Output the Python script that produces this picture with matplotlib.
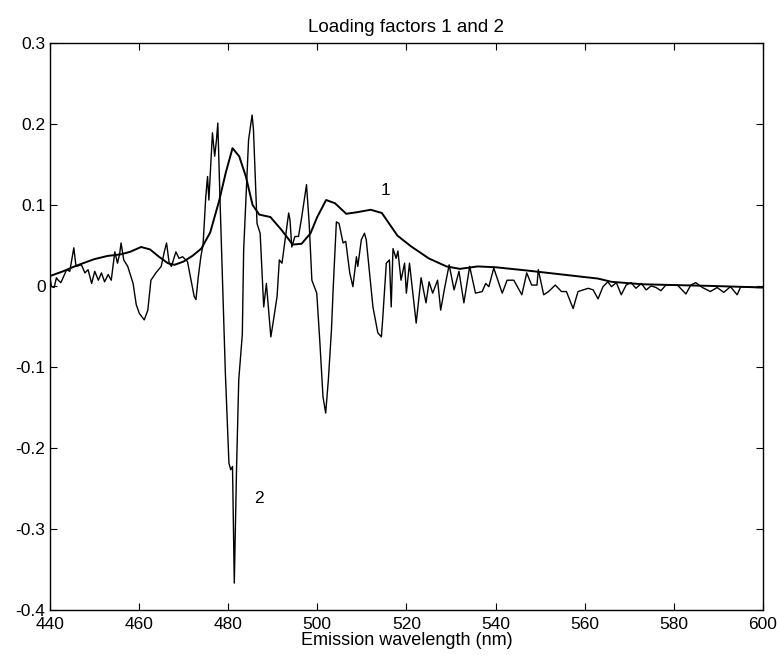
import matplotlib.pyplot as plt

plt.rcParams["font.family"] = ["Liberation Sans", "DejaVu Sans"]

# factor 1 (smooth loading)
wl_1 = [440, 443, 446, 450, 453, 456, 458, 460.5, 462.5, 464.5, 466.5, 468, 470,
        472, 474, 476, 478, 479.5, 481, 482.5, 484, 485.5, 487, 489.5, 492, 494.5,
        496.5, 498.5, 500, 502, 504, 506.5, 509, 512, 514.5, 516, 518, 521, 525,
        529, 532, 536, 540, 547, 555, 563, 566, 573, 580, 588, 600]
load_1 = [0.012, 0.018, 0.025, 0.033, 0.037, 0.039, 0.042, 0.048, 0.045, 0.036,
          0.028, 0.026, 0.030, 0.037, 0.046, 0.066, 0.105, 0.140, 0.170, 0.160,
          0.135, 0.100, 0.088, 0.085, 0.069, 0.051, 0.052, 0.065, 0.085, 0.106,
          0.102, 0.089, 0.091, 0.094, 0.090, 0.078, 0.062, 0.049, 0.034, 0.024,
          0.021, 0.024, 0.023, 0.019, 0.014, 0.009, 0.005, 0.002, 0.001, 0.000,
          -0.002]

# factor 2 (noisy loading)
wl_2 = [440.0, 440.4, 441.0, 441.5, 441.9, 442.5, 443.8, 444.5, 445.4, 445.9,
        447.1, 447.9, 448.6, 449.4, 450.1, 450.9, 451.6, 452.3, 453.1, 453.8,
        454.6, 455.2, 455.7, 456.0, 456.6, 457.5, 458.7, 459.4, 460.1, 461.2,
        462.0, 462.7, 463.8, 465.0, 465.7, 466.2, 466.8, 467.3, 468.3, 469.0,
        469.8, 470.9, 471.6, 472.4, 472.8, 473.3, 473.9, 474.4, 475.0, 475.4,
        475.7, 476.5, 477.0, 477.4, 477.7, 478.2, 478.7, 479.1, 479.4, 480.2,
        480.6, 481.0, 481.4, 481.9, 482.4, 483.2, 483.5, 484.6, 485.4, 485.7,
        486.5, 487.2, 488.0, 488.6, 489.1, 489.6, 490.2, 491.0, 491.5, 492.1,
        492.8, 493.6, 493.9, 494.3, 495.0, 495.8, 496.5, 497.6, 498.2, 498.8,
        499.9, 500.6, 501.3, 501.9, 502.5, 503.2, 503.6, 504.3, 504.9, 505.8,
        506.4, 507.3, 508.0, 508.8, 509.1, 509.9, 510.6, 511.0, 512.5, 513.6,
        514.4, 514.7, 515.5, 516.2, 516.6, 517.0, 517.7, 518.1, 518.8, 519.6,
        520.0, 520.7, 522.2, 523.3, 524.4, 525.1, 525.9, 527.0, 527.7, 528.5,
        529.6, 530.7, 531.8, 532.9, 534.2, 535.5, 537.0, 537.8, 538.5, 539.6,
        541.5, 542.6, 544.1, 545.9, 547.0, 548.1, 549.3, 549.6, 550.8, 551.9,
        553.4, 554.8, 555.9, 557.4, 558.5, 560.8, 561.9, 563.0, 564.1, 565.2,
        566.0, 567.1, 568.2, 569.3, 570.4, 571.5, 572.7, 573.8, 574.9, 576.0,
        577.1, 578.2, 580.8, 582.7, 583.8, 584.9, 586.4, 588.2, 589.7, 591.2,
        592.7, 594.2, 595.0, 598.7, 600.0]
load_2 = [0.012, -0.001, -0.002, 0.010, 0.007, 0.004, 0.020, 0.018, 0.047, 0.024,
          0.026, 0.016, 0.020, 0.003, 0.018, 0.007, 0.016, 0.005, 0.014, 0.007,
          0.042, 0.028, 0.040, 0.053, 0.032, 0.024, 0.003, -0.023, -0.034, -0.042,
          -0.030, 0.007, 0.016, 0.024, 0.042, 0.053, 0.028, 0.024, 0.042, 0.034,
          0.036, 0.030, 0.010, -0.013, -0.017, 0.010, 0.036, 0.051, 0.110, 0.135,
          0.106, 0.189, 0.160, 0.180, 0.201, 0.106, 0.016, -0.060, -0.108, -0.219,
          -0.227, -0.223, -0.367, -0.227, -0.116, -0.060, 0.044, 0.180, 0.211, 0.193,
          0.077, 0.065, -0.026, 0.003, -0.030, -0.063, -0.042, -0.013, 0.032, 0.028,
          0.057, 0.090, 0.081, 0.048, 0.061, 0.061, 0.084, 0.125, 0.077, 0.007,
          -0.009, -0.070, -0.137, -0.157, -0.116, -0.054, -0.001, 0.079, 0.077, 0.053,
          0.055, 0.016, -0.001, 0.036, 0.024, 0.057, 0.065, 0.057, -0.026, -0.058,
          -0.063, -0.040, 0.028, 0.032, -0.026, 0.046, 0.034, 0.043, 0.007, 0.028,
          -0.009, 0.028, -0.046, 0.010, -0.021, 0.005, -0.009, 0.007, -0.030, -0.005,
          0.026, -0.005, 0.018, -0.021, 0.024, -0.009, -0.007, 0.003, -0.001, 0.022,
          -0.009, 0.007, 0.007, -0.011, 0.016, 0.001, 0.001, 0.020, -0.011, -0.007,
          0.001, -0.007, -0.007, -0.028, -0.007, -0.003, -0.005, -0.016, -0.001, 0.005,
          -0.001, 0.004, -0.011, 0.001, 0.004, -0.003, 0.003, -0.005, 0.000, -0.002,
          -0.006, 0.001, 0.001, -0.010, 0.001, 0.004, -0.002, -0.007, -0.002, -0.008,
          -0.001, -0.011, -0.001, -0.002, -0.002]

x_ticks = [440, 460, 480, 500, 520, 540, 560, 580, 600]
y_ticks = [-0.4, -0.3, -0.2, -0.1, 0, 0.1, 0.2, 0.3]
y_ticklabels = ["-0.4", "-0.3", "-0.2", "-0.1", "0", "0.1", "0.2", "0.3"]

fig = plt.figure(figsize=(7.77, 6.6), dpi=100)
ax = fig.add_axes([0.064, 0.076, 0.918, 0.859])

ax.plot(wl_1, load_1, color="black", lw=1.4)
ax.plot(wl_2, load_2, color="black", lw=1.0)

ax.text(515.3, 0.118, "1", fontsize=12.5, ha="center", va="center")
ax.text(486.9, -0.262, "2", fontsize=12.5, ha="center", va="center")

ax.set_xlim(440, 600)
ax.set_ylim(-0.4, 0.3)
ax.set_xticks(x_ticks)
ax.set_yticks(y_ticks)
ax.set_yticklabels(y_ticklabels)
ax.tick_params(direction="in", top=True, right=True, length=5, labelsize=12.5)
ax.tick_params(axis="x", pad=5)
ax.tick_params(axis="y", pad=3)
for s in ax.spines.values():
    s.set_linewidth(1.0)

ax.set_xlabel("Emission wavelength (nm)", fontsize=13, labelpad=0)
ax.set_title("Loading factors 1 and 2", fontsize=13.5, pad=8)

fig.savefig("out.png", dpi=100)
